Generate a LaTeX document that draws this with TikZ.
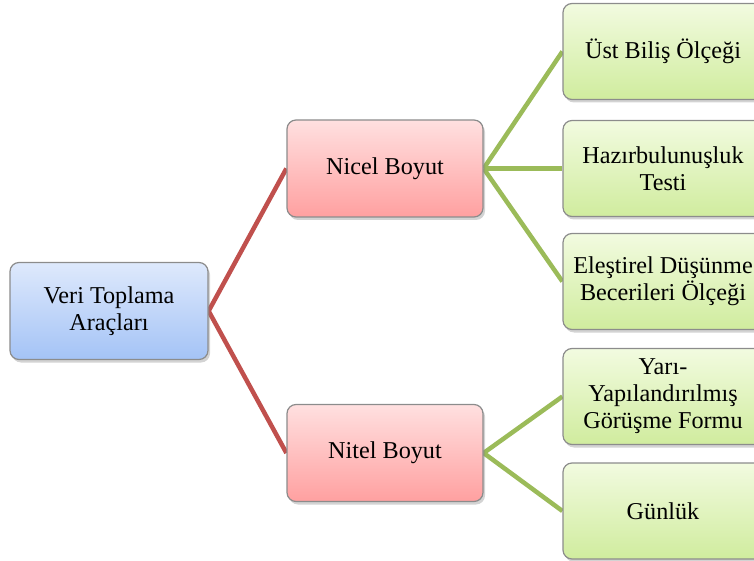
\documentclass[tikz,border=0pt]{standalone}
\usepackage{fontspec}
\setmainfont{Liberation Serif}
\usetikzlibrary{shadows,backgrounds}

\definecolor{bluetop}{RGB}{222,233,252}
\definecolor{bluebot}{RGB}{164,195,246}
\definecolor{redtop}{RGB}{255,224,224}
\definecolor{redbot}{RGB}{255,160,160}
\definecolor{greentop}{RGB}{242,251,224}
\definecolor{greenbot}{RGB}{208,236,158}
\definecolor{boxrim}{RGB}{140,140,140}
\definecolor{linered}{RGB}{192,80,77}
\definecolor{linegreen}{RGB}{155,187,89}

\begin{document}
\begin{tikzpicture}[x=1pt, y=-1pt,
  box/.style={rectangle, rounded corners=9pt, draw=boxrim, line width=1.2pt, minimum height=97pt, inner sep=0pt, align=center, font=\fontsize{24.2}{27}\selectfont, drop shadow={opacity=0.35, shadow xshift=2pt, shadow yshift=-3pt}},
  rootbox/.style={box, minimum width=198pt, top color=bluetop, bottom color=bluebot},
  midbox/.style={box, minimum width=196pt, top color=redtop, bottom color=redbot},
  leafbox/.style={box, minimum width=200pt, minimum height=96pt, top color=greentop, bottom color=greenbot},
  redline/.style={draw=linered, line width=4.5pt},
  greenline/.style={draw=linegreen, line width=4.5pt}]
			\useasboundingbox (0,0) rectangle (754,561);
			\node[rootbox] (veri) at (109,311){Veri Toplama\\Araçları};
			\node[midbox] (nicel) at (385,168.5){Nicel Boyut};
			\node[midbox] (nitel) at (385,453){Nitel Boyut};
			\node[leafbox] (ust) at (663,51.5){Üst Biliş Ölçeği};
			\node[leafbox] (hazir) at (663,168.5){Hazırbulunuşluk\\Testi};
			\node[leafbox] (elest) at (663,281.5){Eleştirel Düşünme\\Becerileri Ölçeği};
			\node[leafbox] (yari) at (663,396.5){Yarı-\\Yapılandırılmış\\Görüşme Formu};
			\node[leafbox] (gunluk) at (663,511){Günlük};
			
			\begin{scope}[on background layer]
			\path[redline] (veri.east) -- (nicel.west);
			\path[redline] (veri.east) -- (nitel.west);
			\path[greenline] (nicel.east) -- (ust.west);
			\path[greenline] (nicel.east) -- (hazir.west);
			\path[greenline] (nicel.east) -- (elest.west);
			\path[greenline] (nitel.east) -- (yari.west);
			\path[greenline] (nitel.east) -- (gunluk.west);
			\end{scope}
			\end{tikzpicture}
\end{document}
